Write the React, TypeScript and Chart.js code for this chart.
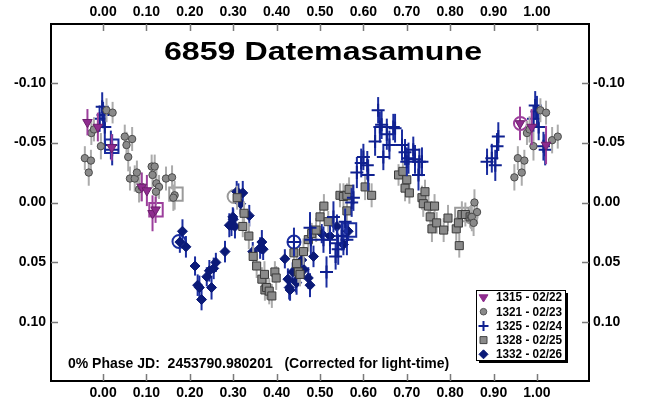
import React, { useEffect, useRef } from 'react';
import { Chart, registerables } from 'chart.js';

Chart.register(...registerables);

// ---------- axis ticks ----------
const xTickValues = [0, 0.1, 0.2, 0.3, 0.4, 0.5, 0.6, 0.7, 0.8, 0.9, 1.0];
const xTickLabels = ['0.00', '0.10', '0.20', '0.30', '0.40', '0.50', '0.60', '0.70', '0.80', '0.90', '1.00'];
const yTickValues = [-0.1, -0.05, 0, 0.05, 0.1];
const yTickLabels = ['-0.10', '-0.05', '0.00', '0.05', '0.10'];

const titleText = '6859 Datemasamune';
const footText = '0% Phase JD:  2453790.980201   (Corrected for light-time)';
const seriesLabels = ['1315 - 02/22', '1321 - 02/23', '1325 - 02/24', '1328 - 02/25', '1332 - 02/26'];

// ---------- 1315 - 02/22 ----------
const s1315Phase = [-0.036, -0.012, 0.020, 0.089, 0.101, 0.114, 0.121, 0.961, 0.988, 1.021];
const s1315Mag = [-0.067, -0.063, -0.046, -0.013, -0.010, 0.009, 0.006, -0.066, -0.063, -0.048];
const s1315Err = [0.011, 0.012, 0.011, 0.012, 0.013, 0.015, 0.011, 0.014, 0.015, 0.016];

// ---------- 1321 - 02/23 ----------
const s1321Phase = [-0.042, -0.033, -0.028, -0.027, -0.021, -0.005, 0.008, 0.022, 0.050, 0.054, 0.067, 0.058, 0.062, 0.073, 0.078, 0.083, 0.089, 0.112, 0.119, 0.114, 0.123, 0.129, 0.122, 0.145, 0.159, 0.165, 0.162, 0.848, 0.856, 0.862, 0.850, 0.854, 0.948, 0.956, 0.965, 0.971, 0.977, 0.983, 0.992, 1.008, 1.021, 1.035, 1.048];
const s1321Mag = [-0.037, -0.025, -0.035, -0.058, -0.061, -0.047, -0.077, -0.075, -0.055, -0.048, -0.053, -0.038, -0.020, -0.020, -0.025, -0.011, -0.013, -0.030, -0.030, -0.023, -0.016, -0.013, -0.009, -0.020, -0.021, -0.006, -0.004, 0.012, 0.000, 0.008, 0.012, 0.017, -0.021, -0.037, -0.025, -0.035, -0.058, -0.061, -0.047, -0.077, -0.075, -0.052, -0.055];
const s1321Err = [0.010, 0.011, 0.009, 0.010, 0.010, 0.011, 0.010, 0.009, 0.010, 0.011, 0.010, 0.012, 0.010, 0.011, 0.010, 0.011, 0.012, 0.010, 0.010, 0.011, 0.012, 0.010, 0.011, 0.010, 0.010, 0.012, 0.011, 0.010, 0.011, 0.010, 0.012, 0.011, 0.011, 0.010, 0.011, 0.009, 0.010, 0.011, 0.012, 0.010, 0.010, 0.011, 0.010];

// ---------- 1325 - 02/24 ----------
const s1325Phase = [-0.008, -0.002, 0.000, 0.004, 0.018, 0.021, 0.440, 0.477, 0.479, 0.508, 0.515, 0.523, 0.531, 0.536, 0.540, 0.542, 0.550, 0.558, 0.562, 0.573, 0.577, 0.585, 0.595, 0.600, 0.609, 0.611, 0.627, 0.634, 0.638, 0.642, 0.646, 0.654, 0.660, 0.669, 0.673, 0.689, 0.696, 0.700, 0.704, 0.715, 0.719, 0.727, 0.729, 0.735, 0.885, 0.896, 0.904, 0.908, 0.911, 0.992, 0.996, 1.000, 1.004, 1.015, 1.019];
const s1325Mag = [-0.070, -0.080, -0.073, -0.063, -0.048, -0.044, 0.033, 0.021, 0.031, 0.031, 0.058, 0.031, 0.012, 0.045, 0.034, 0.039, 0.028, 0.016, 0.031, 0.000, -0.004, -0.025, -0.033, -0.038, -0.031, -0.023, -0.051, -0.077, -0.063, -0.065, -0.038, -0.057, -0.048, -0.063, -0.062, -0.048, -0.042, -0.034, -0.037, -0.044, -0.036, -0.023, -0.034, -0.034, -0.034, -0.037, -0.031, -0.047, -0.055, -0.070, -0.081, -0.076, -0.063, -0.047, -0.044];
const s1325Err = [0.011, 0.012, 0.011, 0.013, 0.012, 0.013, 0.012, 0.013, 0.012, 0.011, 0.013, 0.012, 0.013, 0.011, 0.012, 0.013, 0.012, 0.011, 0.013, 0.012, 0.011, 0.013, 0.012, 0.011, 0.012, 0.013, 0.012, 0.011, 0.013, 0.012, 0.011, 0.013, 0.012, 0.011, 0.012, 0.013, 0.011, 0.012, 0.013, 0.011, 0.012, 0.013, 0.011, 0.012, 0.011, 0.012, 0.013, 0.011, 0.012, 0.011, 0.012, 0.013, 0.011, 0.012, 0.013];

// ---------- 1328 - 02/25 ----------
const s1328Phase = [0.309, 0.322, 0.325, 0.336, 0.346, 0.354, 0.366, 0.372, 0.373, 0.377, 0.383, 0.389, 0.396, 0.399, 0.440, 0.446, 0.450, 0.454, 0.462, 0.473, 0.481, 0.491, 0.500, 0.509, 0.519, 0.546, 0.554, 0.562, 0.562, 0.567, 0.604, 0.619, 0.681, 0.691, 0.696, 0.700, 0.706, 0.735, 0.738, 0.742, 0.750, 0.754, 0.758, 0.764, 0.769, 0.785, 0.795, 0.814, 0.819, 0.821, 0.827, 0.835, 0.846];
const s1328Mag = [-0.004, 0.020, 0.009, 0.028, 0.045, 0.053, 0.064, 0.060, 0.073, 0.071, 0.074, 0.078, 0.058, 0.063, 0.042, 0.051, 0.058, 0.060, 0.041, 0.031, 0.026, 0.023, 0.012, 0.003, 0.016, -0.006, -0.005, -0.006, 0.007, -0.011, -0.013, -0.006, -0.023, -0.026, -0.012, -0.019, -0.008, -0.004, 0.001, -0.009, 0.003, 0.012, 0.022, 0.003, 0.017, 0.023, 0.013, 0.022, 0.017, 0.036, 0.010, 0.010, 0.012];
const s1328Err = [0.010, 0.009, 0.010, 0.011, 0.009, 0.010, 0.010, 0.011, 0.009, 0.010, 0.011, 0.010, 0.009, 0.010, 0.011, 0.010, 0.009, 0.010, 0.011, 0.010, 0.009, 0.010, 0.011, 0.010, 0.009, 0.010, 0.011, 0.010, 0.009, 0.010, 0.011, 0.010, 0.009, 0.010, 0.011, 0.010, 0.009, 0.010, 0.011, 0.010, 0.009, 0.010, 0.011, 0.010, 0.009, 0.010, 0.011, 0.010, 0.009, 0.010, 0.011, 0.010, 0.009];

// ---------- 1332 - 02/26 ----------
const s1332Phase = [0.177, 0.183, 0.191, 0.212, 0.218, 0.222, 0.227, 0.239, 0.245, 0.250, 0.255, 0.260, 0.281, 0.291, 0.296, 0.299, 0.300, 0.304, 0.308, 0.312, 0.317, 0.322, 0.337, 0.345, 0.362, 0.366, 0.369, 0.419, 0.426, 0.429, 0.431, 0.437, 0.444, 0.446, 0.458, 0.463, 0.473, 0.477, 0.485, 0.504, 0.523, 0.539, 0.554, 0.565];
const s1332Mag = [0.033, 0.024, 0.037, 0.053, 0.069, 0.071, 0.081, 0.062, 0.057, 0.071, 0.055, 0.050, 0.041, 0.019, 0.019, 0.012, 0.014, 0.020, -0.009, -0.008, 0.001, -0.008, 0.011, 0.041, 0.038, 0.033, 0.039, 0.047, 0.064, 0.071, 0.073, 0.058, 0.066, 0.067, 0.048, 0.056, 0.063, 0.069, 0.045, 0.026, 0.028, 0.020, 0.035, 0.024];
const s1332Err = [0.009, 0.010, 0.009, 0.008, 0.009, 0.010, 0.009, 0.008, 0.009, 0.010, 0.009, 0.008, 0.009, 0.010, 0.009, 0.008, 0.009, 0.010, 0.009, 0.008, 0.009, 0.010, 0.009, 0.008, 0.009, 0.010, 0.009, 0.008, 0.009, 0.010, 0.009, 0.008, 0.009, 0.010, 0.009, 0.008, 0.009, 0.010, 0.009, 0.008, 0.009, 0.010, 0.009, 0.008];

// ---------- large open markers (circle = first, square = last of each session) ----------
const s1315Marks = { circle: [0.962, -0.066], square: [0.122, 0.006] };
const s1321Marks = { circle: [0.848, 0.012], square: [0.168, -0.007] };
const s1325Marks = { circle: [0.440, 0.033], square: [0.020, -0.047] };
const s1328Marks = { circle: [0.302, -0.005], square: [0.827, 0.010] };
const s1332Marks = { circle: [0.175, 0.0325], square: [0.568, 0.023] };

const PURPLE = '#8e2c8e';
const PURPLE_ERR = '#9c3f9c';
const NAVY = '#0f2090';
const NAVY_DARK = '#0b1a78';
const NAVY_ERR = '#1a2da0';
const GRAY = '#8a8a8a';
const GRAY_ERR = '#ababab';
const FONT = '"Liberation Sans", Arial, Helvetica, sans-serif';

const toPts = (p: number[], m: number[], e: number[]) => p.map((x, i) => ({ x, y: m[i], e: e[i] }));
const markPts = (mk: { circle: number[]; square: number[] }) => [
  { x: mk.circle[0], y: mk.circle[1] },
  { x: mk.square[0], y: mk.square[1] },
];

function drawShape(ctx: CanvasRenderingContext2D, shape: string, x: number, y: number, r: number, fill: string, stroke: string) {
  ctx.save();
  ctx.fillStyle = fill;
  ctx.strokeStyle = stroke;
  ctx.lineWidth = 1;
  ctx.beginPath();
  if (shape === 'triDown') {
    ctx.moveTo(x - r, y - r * 0.6);
    ctx.lineTo(x + r, y - r * 0.6);
    ctx.lineTo(x, y + r);
    ctx.closePath();
    ctx.fill();
    ctx.stroke();
  } else if (shape === 'circle') {
    ctx.arc(x, y, r, 0, Math.PI * 2);
    ctx.fill();
    ctx.stroke();
  } else if (shape === 'cross') {
    ctx.lineWidth = 2;
    ctx.moveTo(x - r, y);
    ctx.lineTo(x + r, y);
    ctx.moveTo(x, y - r);
    ctx.lineTo(x, y + r);
    ctx.stroke();
  } else if (shape === 'square') {
    ctx.rect(x - r, y - r, 2 * r, 2 * r);
    ctx.fill();
    ctx.stroke();
  } else if (shape === 'diamond') {
    ctx.moveTo(x, y - r);
    ctx.lineTo(x + r, y);
    ctx.lineTo(x, y + r);
    ctx.lineTo(x - r, y);
    ctx.closePath();
    ctx.fill();
    ctx.stroke();
  }
  ctx.restore();
}

const errorBarPlugin = {
  id: 'errorBars',
  beforeDatasetDraw(chart: any, args: any) {
    const ds = chart.data.datasets[args.index];
    if (!ds.errColor) return;
    const meta = args.meta;
    const ys = chart.scales.y;
    const ctx = chart.ctx;
    const a = chart.chartArea;
    ctx.save();
    ctx.beginPath();
    ctx.rect(a.left, a.top, a.right - a.left, a.bottom - a.top);
    ctx.clip();
    ctx.strokeStyle = ds.errColor;
    ctx.lineWidth = 2;
    ds.data.forEach((d: any, i: number) => {
      const el = meta.data[i];
      if (!el) return;
      const t = ys.getPixelForValue(d.y - d.e);
      const b = ys.getPixelForValue(d.y + d.e);
      ctx.beginPath();
      ctx.moveTo(el.x, t);
      ctx.lineTo(el.x, b);
      ctx.stroke();
    });
    ctx.restore();
  },
};

const framePlugin = {
  id: 'frameDecor',
  beforeDatasetsDraw(chart: any) {
    const ctx = chart.ctx;
    const a = chart.chartArea;
    const xs = chart.scales.x;
    const ys = chart.scales.y;
    ctx.save();
    ctx.strokeStyle = '#7a7a7a';
    ctx.lineWidth = 1.5;
    const L = 7;
    xTickValues.forEach((v) => {
      const px = Math.round(xs.getPixelForValue(v)) + 0.5;
      ctx.beginPath();
      ctx.moveTo(px, a.top);
      ctx.lineTo(px, a.top + L);
      ctx.moveTo(px, a.bottom);
      ctx.lineTo(px, a.bottom - L);
      ctx.stroke();
    });
    yTickValues.forEach((v) => {
      const py = Math.round(ys.getPixelForValue(v)) + 0.5;
      ctx.beginPath();
      ctx.moveTo(a.left, py);
      ctx.lineTo(a.left + L, py);
      ctx.moveTo(a.right, py);
      ctx.lineTo(a.right - L, py);
      ctx.stroke();
    });
    // title (horizontally stretched bold face)
    ctx.fillStyle = '#000';
    ctx.font = 'bold 26px ' + FONT;
    ctx.textAlign = 'center';
    ctx.textBaseline = 'alphabetic';
    const w = ctx.measureText(titleText).width;
    ctx.translate(323, 59.5);
    ctx.scale(318 / w, 1);
    ctx.fillText(titleText, 0, 0);
    ctx.restore();

    ctx.save();
    ctx.fillStyle = '#000';
    ctx.font = 'bold 14px ' + FONT;
    ctx.textAlign = 'left';
    ctx.textBaseline = 'alphabetic';
    ctx.fillText(footText, 68, 368);
    ctx.restore();
  },
  afterDraw(chart: any) {
    const ctx = chart.ctx;
    const lx = 476, ly = 290, lw = 89, lh = 70;
    ctx.save();
    ctx.fillStyle = '#000';
    ctx.fillRect(lx + 3, ly + 3, lw, lh);
    ctx.fillStyle = '#fff';
    ctx.fillRect(lx, ly, lw, lh);
    ctx.strokeStyle = '#000';
    ctx.lineWidth = 1;
    ctx.strokeRect(lx + 0.5, ly + 0.5, lw, lh);
    const shapes = [
      ['triDown', 4.5, PURPLE, PURPLE],
      ['circle', 3.3, GRAY, '#555'],
      ['cross', 5, NAVY, NAVY],
      ['square', 3.5, GRAY, '#444'],
      ['diamond', 4.5, NAVY_DARK, NAVY_DARK],
    ];
    ctx.font = 'bold 12px ' + FONT;
    ctx.textAlign = 'left';
    ctx.textBaseline = 'middle';
    seriesLabels.forEach((lab, i) => {
      const y = 297.5 + i * 14.2;
      const s = shapes[i] as any;
      drawShape(ctx, s[0], 483.5, y, s[1], s[2], s[3]);
      ctx.fillStyle = '#000';
      const tw = ctx.measureText(lab).width;
      ctx.save();
      ctx.translate(496, y + 0.5);
      ctx.scale(Math.min(1, 66 / tw), 1);
      ctx.fillText(lab, 0, 0);
      ctx.restore();
    });
    ctx.restore();
  },
};

const tickFont = { family: FONT, size: 14, weight: 'bold' as const };

function xAxis(position: 'top' | 'bottom', size: number, padding: number) {
  return {
    type: 'linear' as const,
    position,
    min: -0.12,
    max: 1.12,
    afterBuildTicks: (s: any) => {
      s.ticks = xTickValues.map((v) => ({ value: v }));
    },
    afterFit: (s: any) => {
      s.height = size;
    },
    grid: { display: false, drawTicks: false, tickLength: 0 },
    border: { display: true, color: '#000', width: 2 },
    ticks: {
      autoSkip: false,
      maxRotation: 0,
      padding,
      color: '#000',
      font: tickFont,
      callback: (_v: any, i: number) => xTickLabels[i],
    },
  };
}

function yAxis(position: 'left' | 'right', size: number, padding: number) {
  return {
    type: 'linear' as const,
    position,
    reverse: true,
    min: -0.149,
    max: 0.149,
    afterBuildTicks: (s: any) => {
      s.ticks = yTickValues.map((v) => ({ value: v }));
    },
    afterFit: (s: any) => {
      s.width = size;
    },
    grid: { display: false, drawTicks: false, tickLength: 0 },
    border: { display: true, color: '#000', width: 2 },
    ticks: {
      autoSkip: false,
      padding,
      color: '#000',
      font: tickFont,
      callback: (_v: any, i: number) => yTickLabels[i],
    },
  };
}

function markDataset(mk: any, color: string) {
  return {
    label: '',
    data: markPts(mk),
    pointStyle: ['circle', 'rect'],
    pointRadius: [6.5, 9.5],
    backgroundColor: 'rgba(0,0,0,0)',
    borderColor: color,
    pointBorderWidth: 2,
    showLine: false,
  };
}

export default function App() {
  const ref = useRef<HTMLCanvasElement | null>(null);
  useEffect(() => {
    if (!ref.current) return;
    const chart = new Chart(ref.current, {
      type: 'scatter',
      data: {
        datasets: [
          {
            label: seriesLabels[0],
            data: toPts(s1315Phase, s1315Mag, s1315Err),
            pointStyle: 'triangle',
            rotation: 180,
            pointRadius: 5.5,
            backgroundColor: PURPLE,
            borderColor: '#6e1e6e',
            pointBorderWidth: 1,
            errColor: PURPLE_ERR,
          } as any,
          {
            label: seriesLabels[1],
            data: toPts(s1321Phase, s1321Mag, s1321Err),
            pointStyle: 'circle',
            pointRadius: 3.7,
            backgroundColor: GRAY,
            borderColor: '#4a4a4a',
            pointBorderWidth: 1,
            errColor: GRAY_ERR,
          } as any,
          {
            label: seriesLabels[2],
            data: toPts(s1325Phase, s1325Mag, s1325Err),
            pointStyle: 'cross',
            pointRadius: 6.5,
            backgroundColor: NAVY,
            borderColor: NAVY,
            pointBorderWidth: 2,
            errColor: NAVY_ERR,
          } as any,
          {
            label: seriesLabels[3],
            data: toPts(s1328Phase, s1328Mag, s1328Err),
            pointStyle: 'rect',
            pointRadius: 5.7,
            backgroundColor: GRAY,
            borderColor: '#3a3a3a',
            pointBorderWidth: 1,
            errColor: GRAY_ERR,
          } as any,
          {
            label: seriesLabels[4],
            data: toPts(s1332Phase, s1332Mag, s1332Err),
            pointStyle: 'rectRot',
            pointRadius: 5,
            backgroundColor: NAVY_DARK,
            borderColor: NAVY_DARK,
            pointBorderWidth: 1,
            errColor: NAVY_ERR,
          } as any,
          markDataset(s1315Marks, PURPLE_ERR) as any,
          markDataset(s1321Marks, '#9a9a9a') as any,
          markDataset(s1325Marks, NAVY_ERR) as any,
          markDataset(s1328Marks, '#9a9a9a') as any,
          markDataset(s1332Marks, NAVY_ERR) as any,
        ],
      },
      options: {
        responsive: false,
        devicePixelRatio: 1,
        animation: false,
        layout: { padding: 0 },
        plugins: {
          legend: { display: false },
          title: { display: false },
          tooltip: { enabled: false },
        },
        scales: {
          x: xAxis('bottom', 26, 4),
          x2: xAxis('top', 24, 3),
          y: yAxis('left', 51, 5),
          y2: yAxis('right', 56, 4),
        } as any,
      },
      plugins: [errorBarPlugin, framePlugin],
    });
    return () => chart.destroy();
  }, []);

  return (
    <div style={{ position: 'absolute', left: 0, top: 0, width: 645, height: 407, background: '#fff' }}>
      <canvas ref={ref} width={645} height={407} style={{ display: 'block', width: 645, height: 407 }} />
    </div>
  );
}
